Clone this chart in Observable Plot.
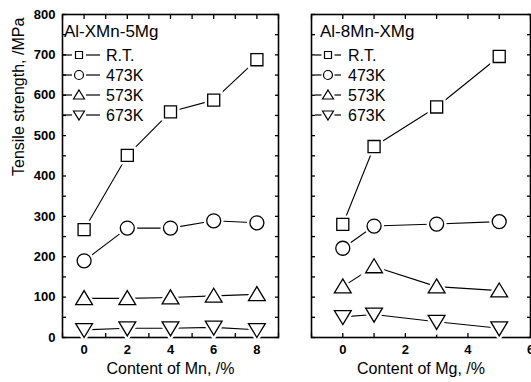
<!DOCTYPE html>
<html><head><meta charset="utf-8">
<script src="https://cdn.jsdelivr.net/npm/d3@7"></script>
<script src="https://cdn.jsdelivr.net/npm/@observablehq/plot@0.6"></script>
<style>
html,body{margin:0;padding:0;background:#fff;}
#wrap{position:relative;width:531px;height:382px;overflow:hidden;font-family:"Liberation Sans",Arial,sans-serif;}
#wrap svg{position:absolute;top:0;}
</style></head><body><div id="wrap"></div>
<script>
// ---- data ----
const series = ["R.T.", "473K", "573K", "673K"];
const mnContent = [0, 2, 4, 6, 8];
const mnRT  = [267, 451, 559, 588, 688];
const mn473 = [190, 271, 271, 289, 284];
const mn573 = [97, 97, 99, 103, 107];
const mn673 = [19, 23, 23, 25, 19];
const mgContent = [0, 1, 3, 5];
const mgRT  = [280, 473, 571, 696];
const mg473 = [221, 276, 281, 287];
const mg573 = [126, 176, 126, 116];
const mg673 = [51, 57, 39, 23];
const yTicks = [0, 100, 200, 300, 400, 500, 600, 700, 800];
const mnTicks = [0, 2, 4, 6, 8];
const mgTicks = [0, 2, 4, 6];
const leftTitle = "Al-XMn-5Mg";
const rightTitle = "Al-8Mn-XMg";
const xLabelMn = "Content of Mn, /%";
const xLabelMg = "Content of Mg, /%";
const yLabel = "Tensile strength, /MPa";

// ---- symbols ----
const sq = {draw(c, s) { const r = Math.sqrt(s / Math.PI), h = r * 0.86; c.rect(-h, -h, 2 * h, 2 * h); }};
const circ = {draw(c, s) { const r = Math.sqrt(s / Math.PI); c.moveTo(r, 0); c.arc(0, 0, r, 0, 2 * Math.PI); c.closePath(); }};
const triUp = {draw(c, s) { const r = Math.sqrt(s / Math.PI), w = 1.2 * r, t = 1.1 * r, b = 0.9 * r; c.moveTo(0, -t); c.lineTo(w, b); c.lineTo(-w, b); c.closePath(); }};
const triDn = {draw(c, s) { const r = Math.sqrt(s / Math.PI), w = 1.2 * r, t = 1.1 * r, b = 0.9 * r; c.moveTo(0, t); c.lineTo(w, -b); c.lineTo(-w, -b); c.closePath(); }};
const symbols = [sq, circ, triUp, triDn];

const style = {fontFamily: "'Liberation Sans', Arial, sans-serif", fontSize: "13px", color: "black", background: "transparent"};

function panel({xs, vals, domain, labelTicks, width, ml, mr, showY, xLabel}) {
  const data = [];
  series.forEach((s, i) => xs.forEach((x, j) => data.push({series: s, x, y: vals[i][j]})));
  const minor = d3.range(domain[0], domain[1] + 1, 1);
  const minorY = d3.range(0, 801, 50);
  const marks = [
    Plot.axisY({anchor: "left", ticks: minorY, tickSize: -4, tickFormat: () => "", label: null, strokeWidth: 1.3}),
    Plot.axisY({anchor: "right", ticks: minorY, tickSize: -4, tickFormat: () => "", label: null, strokeWidth: 1.3}),
    Plot.axisX({anchor: "top", ticks: minor, tickSize: -4, tickFormat: () => "", label: null, strokeWidth: 1.3}),
    Plot.axisX({anchor: "bottom", ticks: minor, tickSize: -4, tickFormat: () => "", label: null, strokeWidth: 1.3}),
    Plot.axisX({anchor: "bottom", ticks: labelTicks, tickSize: 0, tickPadding: 7, fontWeight: "bold", label: null, tickFormat: d => String(d)}),
    Plot.text([xLabel], {text: d => d, frameAnchor: "bottom", dy: 36, fontSize: 16}),
    Plot.frame({stroke: "black", strokeWidth: 1.6}),
    Plot.line(data, {x: "x", y: "y", z: "series", stroke: "black", strokeWidth: 1.1}),
    Plot.dot(data, {x: "x", y: "y", symbol: "series", r: 7, fill: "white", stroke: "white", strokeWidth: 6}),
    Plot.dot(data, {x: "x", y: "y", symbol: "series", r: 7, fill: "white", stroke: "black", strokeWidth: 1.3})
  ];
  if (showY) {
    marks.push(Plot.axisY({anchor: "left", ticks: yTicks, tickSize: 0, tickPadding: 7, fontWeight: "bold", label: null, tickFormat: d => String(d)}));
    marks.push(Plot.text([yLabel], {text: d => d, frameAnchor: "left", rotate: -90, dx: -44, fontSize: 16}));
  }
  return Plot.plot({
    width, height: 382,
    marginLeft: ml, marginRight: mr, marginTop: 14, marginBottom: 45,
    style,
    x: {domain},
    y: {domain: [0, 800]},
    symbol: {domain: series, range: symbols},
    marks
  });
}

const wrap = document.getElementById("wrap");
const left = panel({xs: mnContent, vals: [mnRT, mn473, mn573, mn673], domain: [-1, 9], labelTicks: mnTicks,
  width: 285, ml: 62, mr: 7, showY: true, xLabel: xLabelMn});
left.style.left = "0px";
wrap.appendChild(left);
const right = panel({xs: mgContent, vals: [mgRT, mg473, mg573, mg673], domain: [-1, 6], labelTicks: mgTicks,
  width: 246, ml: 26, mr: 1, showY: false, xLabel: xLabelMg});
right.style.left = "285px";
wrap.appendChild(right);

// ---- in-panel legends ----
const ov = d3.create("svg").attr("width", 531).attr("height", 382).style("left", "0px").style("pointer-events", "none");
function legendShape(i, cx, cy) {
  const p = d3.path();
  if (i === 0) p.rect(cx - 3.5, cy - 3.5, 7, 7);
  else if (i === 1) { p.moveTo(cx + 4.5, cy); p.arc(cx, cy, 4.5, 0, 2 * Math.PI); }
  else if (i === 2) { p.moveTo(cx, cy - 5); p.lineTo(cx + 5.5, cy + 4); p.lineTo(cx - 5.5, cy + 4); p.closePath(); }
  else { p.moveTo(cx, cy + 5); p.lineTo(cx + 5.5, cy - 4); p.lineTo(cx - 5.5, cy - 4); p.closePath(); }
  return p.toString();
}
function legend({title, tx, l0, l1, mx, gap, textX}) {
  const g = ov.append("g").attr("font-family", "'Liberation Sans', Arial, sans-serif");
  g.append("text").attr("x", tx).attr("y", 31).attr("dy", "0.35em").attr("font-size", 17).text(title);
  series.forEach((s, i) => {
    const y = 55 + i * 20;
    g.append("line").attr("x1", l0).attr("x2", mx - gap).attr("y1", y).attr("y2", y).attr("stroke", "black").attr("stroke-width", 1.2);
    g.append("line").attr("x1", mx + gap).attr("x2", l1).attr("y1", y).attr("y2", y).attr("stroke", "black").attr("stroke-width", 1.2);
    g.append("path").attr("d", legendShape(i, mx, y)).attr("fill", "white").attr("stroke", "black").attr("stroke-width", 1.2);
    g.append("text").attr("x", textX).attr("y", y).attr("dy", "0.35em").attr("font-size", 16).text(s);
  });
}
legend({title: leftTitle, tx: 64, l0: 62, l1: 100, mx: 79, gap: 7, textX: 106});
legend({title: rightTitle, tx: 320, l0: 315, l1: 341, mx: 328, gap: 6.5, textX: 348});
wrap.appendChild(ov.node());
</script></body></html>
